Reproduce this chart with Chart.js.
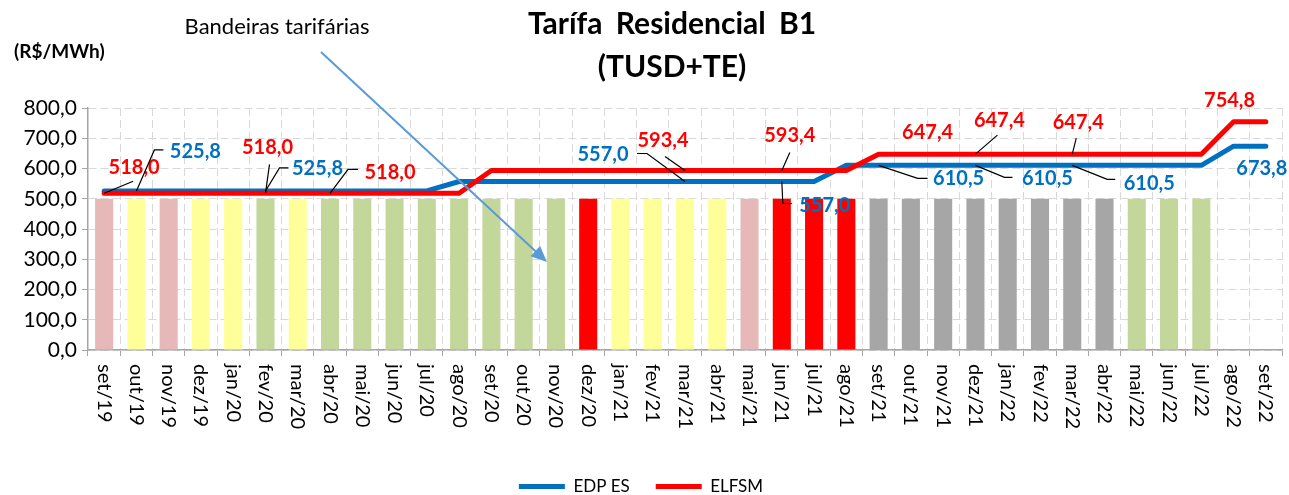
<!DOCTYPE html>
<html>
<head>
<meta charset="utf-8">
<script src="https://cdn.jsdelivr.net/npm/chart.js@4/dist/chart.umd.min.js"></script>
<style>
  html, body { margin: 0; padding: 0; background: #fff; }
  #wrap { width: 1289px; height: 495px; }
</style>
</head>
<body>
<div id="wrap"><canvas id="tarifa"></canvas></div>
<script>
const months = ['set/19','out/19','nov/19','dez/19','jan/20','fev/20','mar/20','abr/20','mai/20','jun/20','jul/20','ago/20',
    'set/20','out/20','nov/20','dez/20','jan/21','fev/21','mar/21','abr/21','mai/21','jun/21','jul/21','ago/21',
    'set/21','out/21','nov/21','dez/21','jan/22','fev/22','mar/22','abr/22','mai/22','jun/22','jul/22','ago/22','set/22'];

const edpES = [525.8,525.8,525.8,525.8,525.8,525.8,525.8,525.8,525.8,525.8,525.8,557.0,
    557.0,557.0,557.0,557.0,557.0,557.0,557.0,557.0,557.0,557.0,557.0,610.5,
    610.5,610.5,610.5,610.5,610.5,610.5,610.5,610.5,610.5,610.5,610.5,673.8,673.8];

const elfsm = [518.0,518.0,518.0,518.0,518.0,518.0,518.0,518.0,518.0,518.0,518.0,518.0,
    593.4,593.4,593.4,593.4,593.4,593.4,593.4,593.4,593.4,593.4,593.4,593.4,
    647.4,647.4,647.4,647.4,647.4,647.4,647.4,647.4,647.4,647.4,647.4,754.8,754.8];

// bandeira tarifária do mês (null = sem bandeira)
const flags = ['verm1','amarela','verm1','amarela','amarela','verde','amarela','verde','verde','verde','verde','verde',
    'verde','verde','verde','verm2','amarela','amarela','amarela','amarela','verm1','verm2','verm2','verm2',
    'escassez','escassez','escassez','escassez','escassez','escassez','escassez','escassez','verde','verde','verde',null,null];

const flagBars = [500,500,500,500,500,500,500,500,500,500,500,500,
    500,500,500,500,500,500,500,500,500,500,500,500,
    500,500,500,500,500,500,500,500,500,500,500,null,null];

const yTicks = [0,100,200,300,400,500,600,700,800];

const flagColors = {
    verde: '#C4D79B',
    amarela: '#FFFF99',
    verm1: '#E6B9B8',
    verm2: '#FF0000',
    escassez: '#A6A6A6'
};

const BLUE = '#0070C0';
const RED = '#FF0000';
const FONT = 'Lato';

const fmt = v => v.toFixed(1).replace('.', ',');

// rótulos de valor: série, índice, deslocamento do texto e linha de chamada
const valueLabels = [
    { ds: 2, i: 0,  dx: 30,  dy: -26, leader: [[0,0],[29,-12]] },
    { ds: 1, i: 1,  dx: 59,  dy: -39, leader: [[0,0],[18,-41],[27,-41]] },
    { ds: 2, i: 5,  dx: 2,   dy: -46, leader: [[0,0],[4,-29]] },
    { ds: 1, i: 5,  dx: 52,  dy: -22, leader: [[0,0],[14,-23],[23,-23]] },
    { ds: 2, i: 7,  dx: 60,  dy: -21, leader: [[0,0],[18,-24],[28,-24]] },
    { ds: 1, i: 18, dx: -82, dy: -27, leader: [[0,0],[-38,-28],[-48,-28]] },
    { ds: 2, i: 18, dx: -22, dy: -30, leader: [[0,0],[-20,-14]] },
    { ds: 2, i: 21, dx: 8,   dy: -35, leader: [[0,0],[8,-18]] },
    { ds: 1, i: 21, dx: 43,  dy: 24,  leader: [[0,0],[1,22],[10,22]] },
    { ds: 2, i: 24, dx: 49,  dy: -22, leader: null },
    { ds: 1, i: 24, dx: 80,  dy: 13,  leader: [[0,0],[39,13],[49,13]] },
    { ds: 2, i: 27, dx: 24,  dy: -34, leader: [[0,0],[22,-19]] },
    { ds: 1, i: 27, dx: 72,  dy: 13,  leader: [[0,0],[29,12],[37,12]] },
    { ds: 2, i: 30, dx: 6,   dy: -32, leader: [[0,0],[4,-16]] },
    { ds: 1, i: 30, dx: 77,  dy: 18,  leader: [[0,0],[35,14],[43,14]] },
    { ds: 2, i: 35, dx: -4,  dy: -21, leader: null },
    { ds: 1, i: 36, dx: -4,  dy: 22,  leader: null }
];

const decorPlugin = {
    id: 'decor',
    afterDraw(chart) {
        const ctx = chart.ctx;
        const x = chart.scales.x;
        const y = chart.scales.y;
        const area = chart.chartArea;

        ctx.save();
        // month labels, rotated clockwise
        ctx.fillStyle = '#000';
        ctx.font = `20px ${FONT}`;
        ctx.textAlign = 'left';
        ctx.textBaseline = 'middle';
        months.forEach((m, i) => {
            ctx.save();
            ctx.translate(x.getPixelForTick(i), area.bottom + 14);
            ctx.rotate(Math.PI / 2);
            ctx.fillText(m, 0, 0);
            ctx.restore();
        });

        // value labels with leader lines
        valueLabels.forEach(l => {
            const ds = chart.data.datasets[l.ds];
            const v = ds.data[l.i];
            const px = x.getPixelForValue(l.i);
            const py = y.getPixelForValue(v);
            if (l.leader) {
                ctx.strokeStyle = '#000';
                ctx.lineWidth = 1.2;
                ctx.beginPath();
                l.leader.forEach((p, k) => {
                    if (k === 0) ctx.moveTo(px + p[0], py + p[1]);
                    else ctx.lineTo(px + p[0], py + p[1]);
                });
                ctx.stroke();
            }
            ctx.fillStyle = ds.borderColor;
            ctx.font = `bold 20px ${FONT}`;
            ctx.textAlign = 'center';
            ctx.textBaseline = 'middle';
            ctx.fillText(fmt(v), px + l.dx, py + l.dy);
        });

        // titles
        ctx.fillStyle = '#000';
        ctx.textAlign = 'center';
        ctx.textBaseline = 'middle';
        ctx.font = `bold 30px ${FONT}`;
        if ('wordSpacing' in ctx) ctx.wordSpacing = '6px';
        ctx.fillText('Tarífa Residencial B1', 672, 24);
        ctx.fillText('(TUSD+TE)', 672, 67);
        if ('wordSpacing' in ctx) ctx.wordSpacing = '0px';

        ctx.textAlign = 'left';
        ctx.font = `bold 19px ${FONT}`;
        ctx.fillText('(R$/MWh)', 14, 52);

        ctx.font = `22px ${FONT}`;
        ctx.textAlign = 'center';
        ctx.fillText('Bandeiras tarifárias', 277, 27);

        // arrow pointing at the flag bars
        const ax0 = 321, ay0 = 52, ax1 = 547, ay1 = 262;
        const ang = Math.atan2(ay1 - ay0, ax1 - ax0);
        ctx.strokeStyle = '#5B9BD5';
        ctx.fillStyle = '#5B9BD5';
        ctx.lineWidth = 2;
        ctx.beginPath();
        ctx.moveTo(ax0, ay0);
        ctx.lineTo(ax1 - 12 * Math.cos(ang), ay1 - 12 * Math.sin(ang));
        ctx.stroke();
        ctx.beginPath();
        ctx.moveTo(ax1, ay1);
        ctx.lineTo(ax1 - 16 * Math.cos(ang) + 7 * Math.sin(ang), ay1 - 16 * Math.sin(ang) - 7 * Math.cos(ang));
        ctx.lineTo(ax1 - 16 * Math.cos(ang) - 7 * Math.sin(ang), ay1 - 16 * Math.sin(ang) + 7 * Math.cos(ang));
        ctx.closePath();
        ctx.fill();
        ctx.restore();
    }
};

new Chart(document.getElementById('tarifa'), {
    data: {
        labels: months,
        datasets: [
            {
                type: 'bar',
                label: 'Bandeira',
                data: flagBars,
                backgroundColor: flags.map(f => f ? flagColors[f] : 'transparent'),
                barPercentage: 0.56,
                categoryPercentage: 1,
                order: 3
            },
            {
                type: 'line',
                label: 'EDP ES',
                data: edpES,
                borderColor: BLUE,
                backgroundColor: BLUE,
                borderWidth: 5,
                pointRadius: 0,
                pointStyle: 'line',
                tension: 0,
                borderJoinStyle: 'round',
                borderCapStyle: 'round',
                order: 2
            },
            {
                type: 'line',
                label: 'ELFSM',
                data: elfsm,
                borderColor: RED,
                backgroundColor: RED,
                borderWidth: 5,
                pointRadius: 0,
                pointStyle: 'line',
                tension: 0,
                borderJoinStyle: 'round',
                borderCapStyle: 'round',
                order: 1
            }
        ]
    },
    options: {
        responsive: true,
        maintainAspectRatio: false,
        animation: false,
        layout: { padding: { top: 108, right: 7, left: 0, bottom: -10 } },
        plugins: {
            title: { display: false },
            tooltip: { enabled: false },
            legend: {
                position: 'bottom',
                labels: {
                    filter: item => item.datasetIndex > 0,
                    sort: (a, b) => a.datasetIndex - b.datasetIndex,
                    usePointStyle: true,
                    pointStyleWidth: 46,
                    color: '#000',
                    font: { family: FONT, size: 17 },
                    padding: 26
                }
            }
        },
        scales: {
            x: {
                offset: true,
                grid: {
                    offset: true,
                    color: '#D9D9D9',
                    tickColor: '#A6A6A6',
                    tickLength: 6,
                    tickBorderDash: [],
                    lineWidth: 1
                },
                border: { color: '#A6A6A6', width: 1.5, dash: [8, 4] },
                ticks: { display: false },
                afterFit: s => { s.height = 102; }
            },
            y: {
                min: 0,
                max: 800,
                afterBuildTicks: s => { s.ticks = yTicks.map(v => ({ value: v })); },
                grid: {
                    color: '#D9D9D9',
                    tickColor: '#A6A6A6',
                    tickLength: 6,
                    tickBorderDash: []
                },
                border: { color: '#A6A6A6', width: 1.5, dash: [8, 4] },
                ticks: {
                    color: '#000',
                    font: { family: FONT, size: 21 },
                    padding: 5,
                    callback: v => fmt(v)
                },
                afterFit: s => { s.width = 88; }
            }
        }
    },
    plugins: [decorPlugin]
});
</script>
</body>
</html>
